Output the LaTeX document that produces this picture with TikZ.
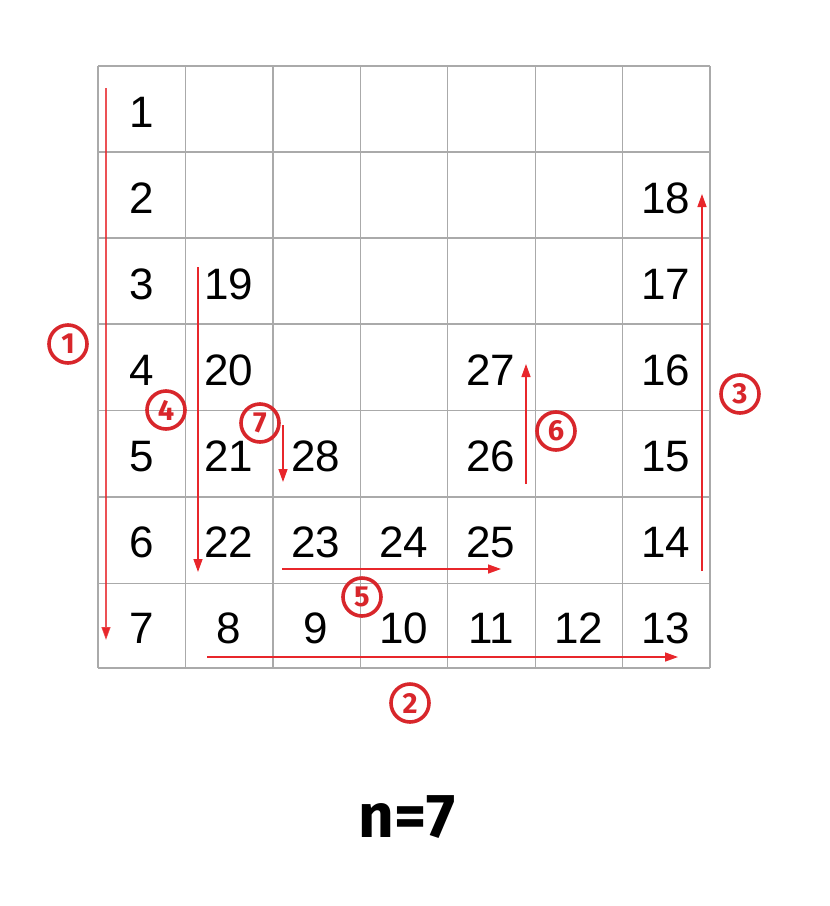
\documentclass[tikz,border=0pt]{standalone}
\usepackage{fontspec}
\setmainfont{Liberation Sans}
\newfontfamily\labfont{Fira Sans}
\usetikzlibrary{arrows.meta}
\definecolor{gridgray}{HTML}{AAAAAA}
\definecolor{arrred}{HTML}{E8262B}
\definecolor{circred}{HTML}{D8262B}
\begin{document}
\begin{tikzpicture}[x=1pt,y=-1pt,
  num/.style={font=\fontsize{44}{44}\selectfont, anchor=base, inner sep=0pt},
  pathline/.style={draw=arrred, line width=1.4pt, -{Triangle[length=13pt,width=9pt]}},
  circlab/.style={circle, draw=circred, line width=3.6pt, minimum size=38pt, inner sep=0pt, text=circred, font=\labfont\bfseries\fontsize{29}{29}\selectfont}]
\useasboundingbox (0,0) rectangle (830,906);
\fill[white] (0,0) rectangle (830,906);
% grid
\foreach \x in {98,185.4,272.9,360.3,447.7,535.1,622.6,710} {
  \draw[gridgray, line width=1.2pt] (\x,66) -- (\x,668);
}
\foreach \y in {66,152,238,324,410.6,496.9,583.1,668} {
  \draw[gridgray, line width=1.2pt] (98,\y) -- (710,\y);
}
% numbers (column centre x, base y)
\def\cA{142}\def\cB{229}\def\cC{316}\def\cD{404}\def\cE{491}\def\cF{579}\def\cG{666}
\node[num] (n1) at (\cA,127) {1};
\node[num] (n2) at (\cA,213) {2};
\node[num] (n3) at (\cA,299) {3};
\node[num] (n4) at (\cA,385) {4};
\node[num] (n5) at (\cA,471) {5};
\node[num] (n6) at (\cA,557) {6};
\node[num] (n7) at (\cA,643) {7};
\node[num] (n8) at (\cB,643) {8};
\node[num] (n9) at (\cC,643) {9};
\node[num] (n10) at (\cD,643) {10};
\node[num] (n11) at (\cE,643) {11};
\node[num] (n12) at (\cF,643) {12};
\node[num] (n13) at (\cG,643) {13};
\node[num] (n14) at (\cG,557) {14};
\node[num] (n15) at (\cG,471) {15};
\node[num] (n16) at (\cG,385) {16};
\node[num] (n17) at (\cG,299) {17};
\node[num] (n18) at (\cG,213) {18};
\node[num] (n19) at (\cB,299) {19};
\node[num] (n20) at (\cB,385) {20};
\node[num] (n21) at (\cB,471) {21};
\node[num] (n22) at (\cB,557) {22};
\node[num] (n23) at (\cC,557) {23};
\node[num] (n24) at (\cD,557) {24};
\node[num] (n25) at (\cE,557) {25};
\node[num] (n26) at (\cE,471) {26};
\node[num] (n27) at (\cE,385) {27};
\node[num] (n28) at (\cC,471) {28};
% arrow end points
\coordinate (a1s) at (106,88);  \coordinate (a1e) at (106,640);
\coordinate (a2s) at (207,657); \coordinate (a2e) at (678,657);
\coordinate (a3s) at (702,571); \coordinate (a3e) at (702,194);
\coordinate (a4s) at (198,267); \coordinate (a4e) at (198,572);
\coordinate (a5s) at (282,569); \coordinate (a5e) at (501,569);
\coordinate (a6s) at (526,484); \coordinate (a6e) at (526,364);
\coordinate (a7s) at (283,425); \coordinate (a7e) at (283,482);
\draw[pathline, draw opacity=0.8] (a1s) -- (a1e);
\draw[pathline] (a2s) -- (a2e);
\draw[pathline] (a3s) -- (a3e);
\draw[pathline] (a4s) -- (a4e);
\draw[pathline] (a5s) -- (a5e);
\draw[pathline] (a6s) -- (a6e);
\draw[pathline] (a7s) -- (a7e);
% circled labels
\node[circlab] (c1) at (68,344) {1};
\node[circlab] (c2) at (410,703) {2};
\node[circlab] (c3) at (740,394) {3};
\node[circlab] (c4) at (166,410) {4};
\node[circlab] (c5) at (362,597) {5};
\node[circlab] (c6) at (556,431) {6};
\node[circlab] (c7) at (260,423) {7};
% caption
\node[font=\labfont\bfseries\fontsize{62}{62}\selectfont, inner sep=0pt] (cap) at (407,817) {n=7};
\end{tikzpicture}
\end{document}
